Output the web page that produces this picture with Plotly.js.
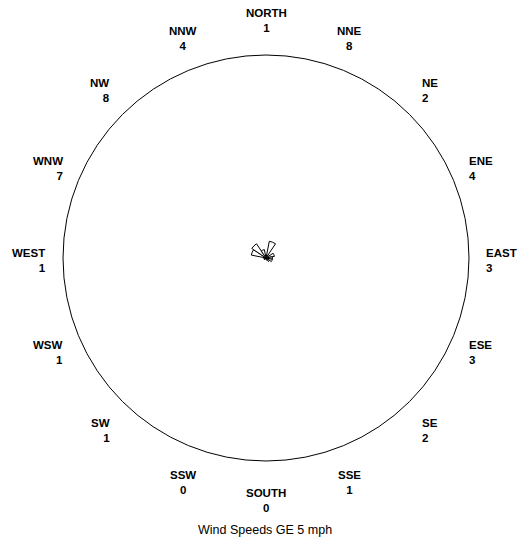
<!DOCTYPE html>
<html>
<head>
<meta charset="utf-8">
<script src="https://cdn.plot.ly/plotly-3.0.1.min.js"></script>
<style>html,body{margin:0;padding:0;background:#fff;}#chart{width:525px;height:544px;}</style>
</head>
<body>
<div id="chart"></div>
<script>
const directions = ["NORTH","NNE","NE","ENE","EAST","ESE","SE","SSE","SOUTH","SSW","SW","WSW","WEST","WNW","NW","NNW"];
const counts = [1,8,2,4,3,3,2,1,0,0,1,1,1,7,8,4];
const chartTitle = "Wind Speeds GE 5 mph";

const W = 525, H = 544, cx = 266, cy = 258, R = 203;
const labelRx = 218, labelRy = 240, labelDy = 2.6;
const labelFont = {family: "Liberation Sans, Arial, sans-serif", size: 11.5, color: "black", weight: "bold"};

const trace = {
  type: "barpolar",
  r: counts,
  theta: directions,
  marker: {color: "white", line: {color: "black", width: 1}},
  hoverinfo: "skip",
  showlegend: false
};

// Direction labels placed around the dial, computed from each direction's angle
const annotations = directions.map((d, i) => {
  const ang = i * 2 * Math.PI / directions.length;
  const s = Math.sin(ang), c = Math.cos(ang);
  const px = cx + labelRx * s;
  const py = cy - labelRy * c + labelDy;
  let xanchor = "center", align = "center";
  if (Math.abs(s) > 0.5) { xanchor = s > 0 ? "left" : "right"; align = xanchor; }
  return {
    text: d + "<br>" + counts[i],
    xref: "paper", yref: "paper",
    x: px / W, y: (H - py) / H,
    xanchor: xanchor, yanchor: "middle", align: align,
    showarrow: false, font: labelFont
  };
});
annotations.push({
  text: chartTitle, xref: "paper", yref: "paper", x: 265 / W, y: (H - 530) / H,
  xanchor: "center", yanchor: "middle", showarrow: false,
  font: {family: "Liberation Sans, Arial, sans-serif", size: 12.5, color: "black"}
});

const layout = {
  width: W, height: H,
  margin: {l: 0, r: 0, t: 0, b: 0},
  paper_bgcolor: "white",
  font: {family: "Liberation Sans, Arial, sans-serif", size: 12, color: "black"},
  polar: {
    domain: {x: [(cx - R) / W, (cx + R) / W], y: [(H - cy - R) / H, (H - cy + R) / H]},
    bgcolor: "white",
    bargap: 0,
    radialaxis: {visible: false, range: [0, 95]},
    angularaxis: {
      type: "category",
      categoryarray: directions,
      direction: "clockwise",
      rotation: 90,
      showgrid: false,
      showline: true,
      linecolor: "black",
      linewidth: 1,
      ticks: "",
      showticklabels: false
    }
  },
  annotations: annotations
};

Plotly.newPlot("chart", [trace], layout, {displayModeBar: false, staticPlot: true});
</script>
</body>
</html>
